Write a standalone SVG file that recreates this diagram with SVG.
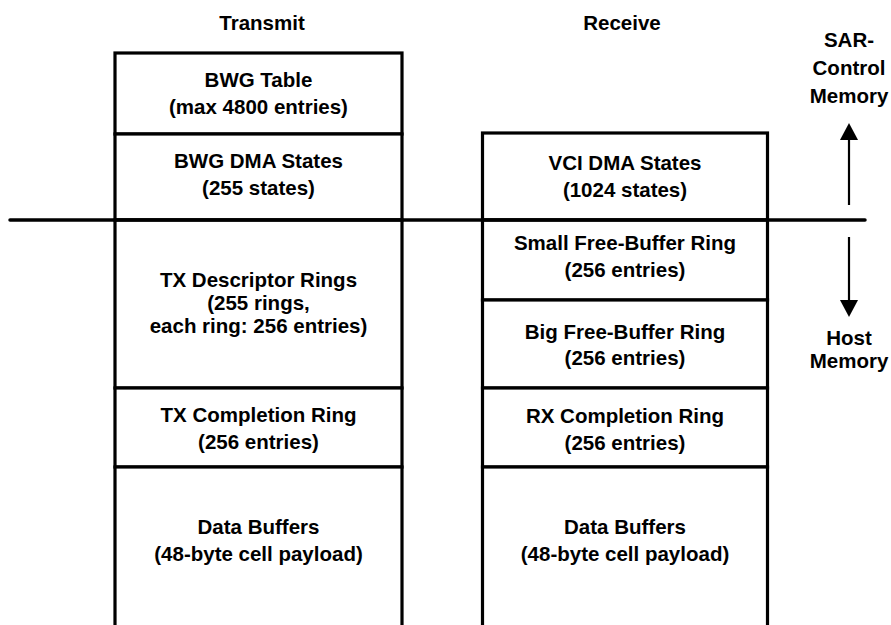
<svg xmlns="http://www.w3.org/2000/svg" width="891" height="625" viewBox="0 0 891 625">
<style>
.cell{fill:#fff;stroke:#000;stroke-width:3.2}
text{font-family:"Liberation Sans",Arial,Helvetica,sans-serif;font-weight:bold;font-size:20.5px;text-anchor:middle;fill:#000}
.conn{stroke:#000;fill:none}
</style>
<defs>
<marker id="ah" markerWidth="10" markerHeight="10" refX="9" refY="5" orient="auto" markerUnits="userSpaceOnUse" viewBox="0 0 10 10">
<path d="M0,0 L10,5 L0,10 Z" fill="#000"/>
</marker>
</defs>
<rect width="891" height="625" fill="#fff"/>
<g id="titles">
<text x="262" y="30">Transmit</text>
<text x="622" y="30">Receive</text>
</g>
<g id="tx-bwg-table"><rect class="cell" x="115" y="53" width="287" height="81"/><text x="258.5" y="87">BWG Table</text><text x="258.5" y="114">(max 4800 entries)</text></g>
<g id="tx-bwg-dma"><rect class="cell" x="115" y="134" width="287" height="86"/><text x="258.5" y="168">BWG DMA States</text><text x="258.5" y="195">(255 states)</text></g>
<g id="tx-desc"><rect class="cell" x="115" y="220" width="287" height="168"/><text x="258.5" y="287">TX Descriptor Rings</text><text x="258.5" y="310">(255 rings,</text><text x="258.5" y="333">each ring: 256 entries)</text></g>
<g id="tx-compl"><rect class="cell" x="115" y="388" width="287" height="79"/><text x="258.5" y="422">TX Completion Ring</text><text x="258.5" y="449">(256 entries)</text></g>
<g id="tx-data"><rect class="cell" x="115" y="467" width="287" height="170"/><text x="258.5" y="534">Data Buffers</text><text x="258.5" y="561">(48-byte cell payload)</text></g>
<g id="rx-vci"><rect class="cell" x="482.5" y="133" width="285" height="87"/><text x="625" y="170">VCI DMA States</text><text x="625" y="197">(1024 states)</text></g>
<g id="rx-small"><rect class="cell" x="482.5" y="220" width="285" height="80"/><text x="625" y="250">Small Free-Buffer Ring</text><text x="625" y="277">(256 entries)</text></g>
<g id="rx-big"><rect class="cell" x="482.5" y="300" width="285" height="88"/><text x="625" y="339">Big Free-Buffer Ring</text><text x="625" y="365">(256 entries)</text></g>
<g id="rx-compl"><rect class="cell" x="482.5" y="388" width="285" height="79"/><text x="625" y="423">RX Completion Ring</text><text x="625" y="450">(256 entries)</text></g>
<g id="rx-data"><rect class="cell" x="482.5" y="467" width="285" height="170"/><text x="625" y="534">Data Buffers</text><text x="625" y="561">(48-byte cell payload)</text></g>
<g id="sar-label"><text x="849" y="47">SAR-</text><text x="849" y="75">Control</text><text x="849" y="103">Memory</text></g>
<g id="host-label"><text x="849" y="345">Host</text><text x="849" y="368">Memory</text></g>
<g id="connectors">
<line class="conn" x1="10" y1="220" x2="865" y2="220" stroke-width="3.5" stroke-linecap="round"/>
<line class="conn" x1="849" y1="205" x2="849" y2="140" stroke-width="2.2"/>
<path d="M849,123 L858,140 L840,140 Z" fill="#000"/>
<line class="conn" x1="849" y1="237" x2="849" y2="302" stroke-width="2.2"/>
<path d="M849,317 L858,300 L840,300 Z" fill="#000"/>
</g>
</svg>
